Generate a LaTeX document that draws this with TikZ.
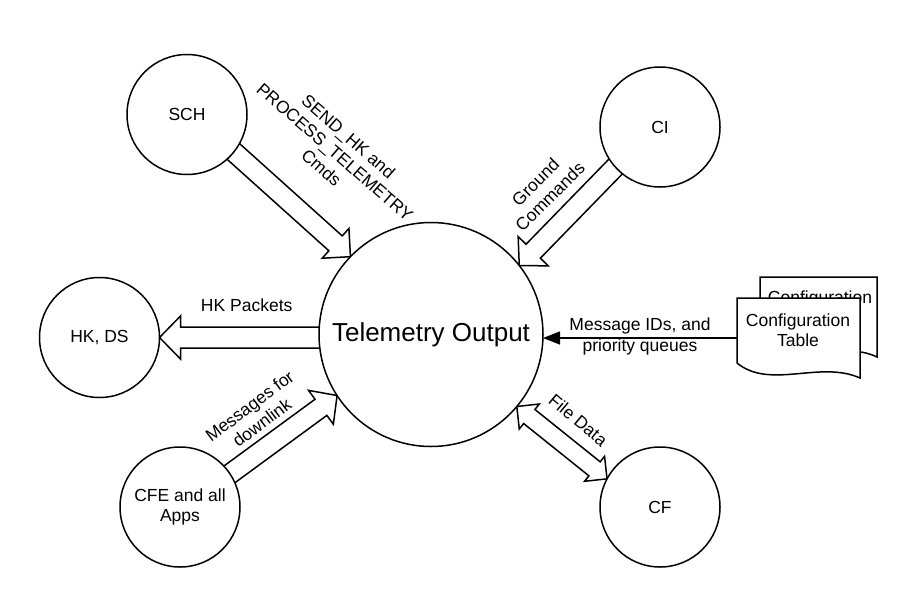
\documentclass[tikz,border=0pt]{standalone}
\usepackage{fontspec}
\setmainfont{Liberation Sans}
\usetikzlibrary{calc,arrows.meta}
\pgfdeclarelayer{bg}
\pgfsetlayers{bg,main}
\tikzset{
  bubble/.style={circle,draw,line width=1.5pt,fill=white,inner sep=0pt,outer sep=0pt,
    minimum size=120pt,font=\fontsize{17.5}{20.5}\selectfont,align=center},
  bigbubble/.style={bubble,minimum size=224pt,font=\fontsize{26}{30}\selectfont},
  lbl/.style={font=\fontsize{17.5}{20.5}\selectfont,align=center,inner sep=0pt},
  fatline/.style={draw,line width=1.5pt,fill=white,line join=miter},
  docline/.style={draw,line width=1.5pt,fill=white},
  thinarrow/.style={line width=1.5pt,-{Triangle[length=17pt,width=13pt]}},
}
% fat hollow arrow: #1 start, #2 tip, #3 half shaft, #4 half head, #5 head length
\newcommand\fatarrow[5]{%
  \coordinate (fac) at ($(#2)!#5!(#1)$);
  \path[fatline] ($(#1)!#3!90:(#2)$) -- ($(fac)!#3!90:(#2)$) -- ($(fac)!#4!90:(#2)$)
    -- (#2) -- ($(fac)!#4!-90:(#2)$) -- ($(fac)!#3!-90:(#2)$) -- ($(#1)!#3!-90:(#2)$) -- cycle;
}
% double headed fat arrow between tips #1 and #2
\newcommand\fatdouble[5]{%
  \coordinate (fda) at ($(#1)!#5!(#2)$);
  \coordinate (fdb) at ($(#2)!#5!(#1)$);
  \path[fatline] (#1) -- ($(fda)!#4!90:(#2)$) -- ($(fda)!#3!90:(#2)$)
    -- ($(fdb)!#3!-90:(#1)$) -- ($(fdb)!#4!-90:(#1)$) -- (#2)
    -- ($(fdb)!#4!90:(#1)$) -- ($(fdb)!#3!90:(#1)$)
    -- ($(fda)!#3!-90:(#2)$) -- ($(fda)!#4!-90:(#2)$) -- cycle;
}
\begin{document}
\begin{tikzpicture}[x=1pt,y=-1pt]
\useasboundingbox (0,0) rectangle (920,608);

% circles
\node[bubble] (SCH) at (187,114.5) {SCH};
\node[bubble] (CI) at (660,127) {CI};
\node[bigbubble] (TO) at (431,334.5) {Telemetry Output};
\node[bubble] (HK) at (99.5,337.5) {HK, DS};
\node[bubble] (CFE) at (180,507) {CFE and all\\Apps};
\node[bubble] (CF) at (660,507) {CF};

% configuration table documents
\path[docline] (760,277) -- (877,277) -- (877,357)
  .. controls (840,339) and (790,369) .. (760,342) -- cycle;
\node[lbl] (cfgback) at (820,299) {Configuration};
\node[inner sep=0pt,outer sep=0pt,minimum width=123pt,minimum height=80pt] (cfgshape) at (798.5,338) {};
\path[docline] (cfgshape.north west) -- (cfgshape.north east) -- (cfgshape.south east)
  .. controls ($(cfgshape.south east)+(-40,-18)$) and ($(cfgshape.south west)+(33,12)$)
  .. ($(cfgshape.south west)+(0,-15)$) -- cycle;
\node[lbl] (cfgtxt) at (798,330) {Configuration\\Table};

% white page and fat arrows (behind the circles)
\begin{pgfonlayer}{bg}
  \fill[white] (0,0) rectangle (920,608);
  \coordinate (s1) at ($(SCH.center)!0.85!(SCH.-38.5)$);
  \fatarrow{s1}{TO.136}{10pt}{20pt}{20pt}
  \coordinate (s2) at ($(CI.center)!0.85!(CI.221.4)$);
  \fatarrow{s2}{TO.38.6}{10pt}{21pt}{20pt}
  \coordinate (s3) at ($(TO.west |- HK.east)+(8,0)$);
  \fatarrow{s3}{HK.east}{10.5pt}{21.5pt}{21pt}
  \coordinate (s4) at ($(CFE.center)!0.85!(CFE.33)$);
  \fatarrow{s4}{TO.213.6}{10pt}{21pt}{20pt}
  \fatdouble{TO.-40.3}{CF.152.9}{9pt}{16pt}{16pt}
\end{pgfonlayer}

% thin arrow from configuration table
\draw[thinarrow] (cfgshape.west) -- (cfgshape.west -| TO.east);

% labels
\node[lbl] (hklbl) at (246.7,305) {HK Packets};
\node[lbl,rotate=-41] (sendlbl) at (335,152) {SEND\_HK and\\PROCESS\_TELEMETRY\\Cmds};
\node[lbl,rotate=45] (gndlbl) at (542.7,189.3) {Ground\\Commands};
\node[lbl,rotate=37] (msglbl) at (255.7,414.3) {Messages for\\downlink};
\node[lbl,rotate=-40] (filelbl) at (578.3,420) {File Data};
\node[lbl] (idlbl) at (640,336.7) {Message IDs, and\\priority queues};
\end{tikzpicture}
\end{document}
